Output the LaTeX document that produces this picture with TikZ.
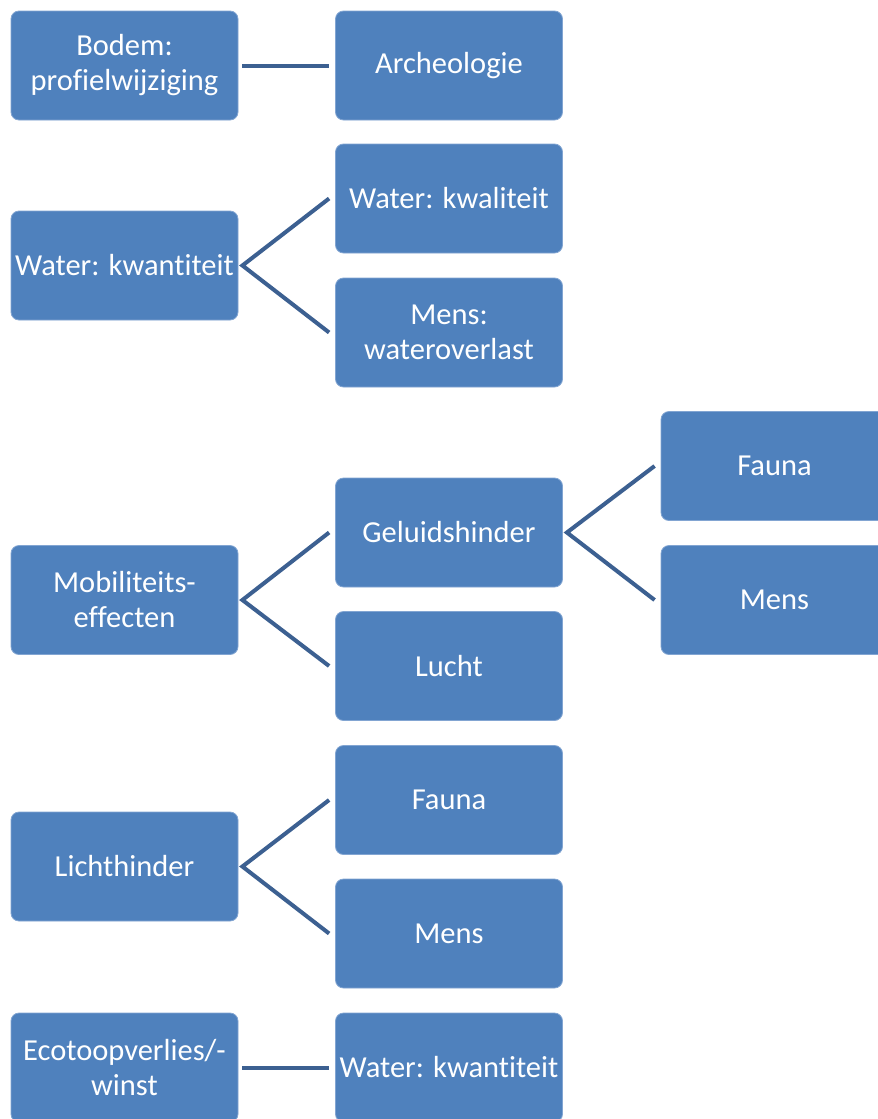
\documentclass[tikz,border=0pt]{standalone}
\usepackage{fontspec}
\setmainfont{Carlito}[Ligatures={NoCommon,NoRequired,NoContextual}]
\usetikzlibrary{calc}
\definecolor{boxfill}{RGB}{79,129,189}
\definecolor{boxedge}{RGB}{130,165,210}
\definecolor{linkcol}{RGB}{60,96,145}
\tikzset{
  box/.style={rectangle, rounded corners=8pt, fill=boxfill, draw=boxedge, line width=0.8pt,
    minimum width=227pt, minimum height=109pt, inner sep=2pt, align=center, text=white,
    font=\fontsize{30.5pt}{35pt}\selectfont},
  link/.style={draw=linkcol, line width=4pt}
}
\begin{document}
\begin{tikzpicture}[x=1pt,y=-1pt]
\useasboundingbox (0,0) rectangle (878,1119);
\clip (0,0) rectangle (878,1119);
\fill[white] (0,0) rectangle (878,1119);
% column 1
\node[box] (bodem) at (124.5,65.5) {Bodem:\\profielwijziging};
\node[box] (wkw) at (124.5,265.5) {Water: kwantiteit};
\node[box] (mob) at (124.5,600) {Mobiliteits-\\effecten};
\node[box] (licht) at (124.5,866.5) {Lichthinder};
\node[box] (eco) at (124.5,1067.5) {Ecotoopverlies/-\\winst};
% column 2
\node[box] (arch) at (449,65.5) {Archeologie};
\node[box] (wkwal) at (449,198.5) {Water: kwaliteit};
\node[box] (mwo) at (449,332.5) {Mens:\\wateroverlast};
\node[box] (gel) at (449,532.5) {Geluidshinder};
\node[box] (lucht) at (449,666) {Lucht};
\node[box] (fauna2) at (449,800) {Fauna};
\node[box] (mens2) at (449,933.5) {Mens};
\node[box] (wkw2) at (449,1067.5) {Water: kwantiteit};
% column 3
\node[box] (fauna3) at (774.5,466) {Fauna};
\node[box] (mens3) at (774.5,600) {Mens};
% connector ends
\coordinate (bodemR) at ($(bodem.east)+(4,0)$);
\coordinate (archL) at ($(arch.west)+(-6,0)$);
\coordinate (wkwR) at ($(wkw.east)+(4,0)$);
\coordinate (wkwalL) at ($(wkwal.west)+(-6,0)$);
\coordinate (mwoL) at ($(mwo.west)+(-6,0)$);
\coordinate (mobR) at ($(mob.east)+(4,0)$);
\coordinate (gelL) at ($(gel.west)+(-6,0)$);
\coordinate (luchtL) at ($(lucht.west)+(-6,0)$);
\coordinate (gelR) at ($(gel.east)+(4,0)$);
\coordinate (fauna3L) at ($(fauna3.west)+(-6,0)$);
\coordinate (mens3L) at ($(mens3.west)+(-6,0)$);
\coordinate (lichtR) at ($(licht.east)+(4,0)$);
\coordinate (fauna2L) at ($(fauna2.west)+(-6,0)$);
\coordinate (mens2L) at ($(mens2.west)+(-6,0)$);
\coordinate (ecoR) at ($(eco.east)+(4,0)$);
\coordinate (wkw2L) at ($(wkw2.west)+(-6,0)$);
% connectors
\draw[link] (bodemR) -- (archL);
\draw[link] (wkwalL) -- (wkwR) -- (mwoL);
\draw[link] (gelL) -- (mobR) -- (luchtL);
\draw[link] (fauna3L) -- (gelR) -- (mens3L);
\draw[link] (fauna2L) -- (lichtR) -- (mens2L);
\draw[link] (ecoR) -- (wkw2L);
\end{tikzpicture}
\end{document}
